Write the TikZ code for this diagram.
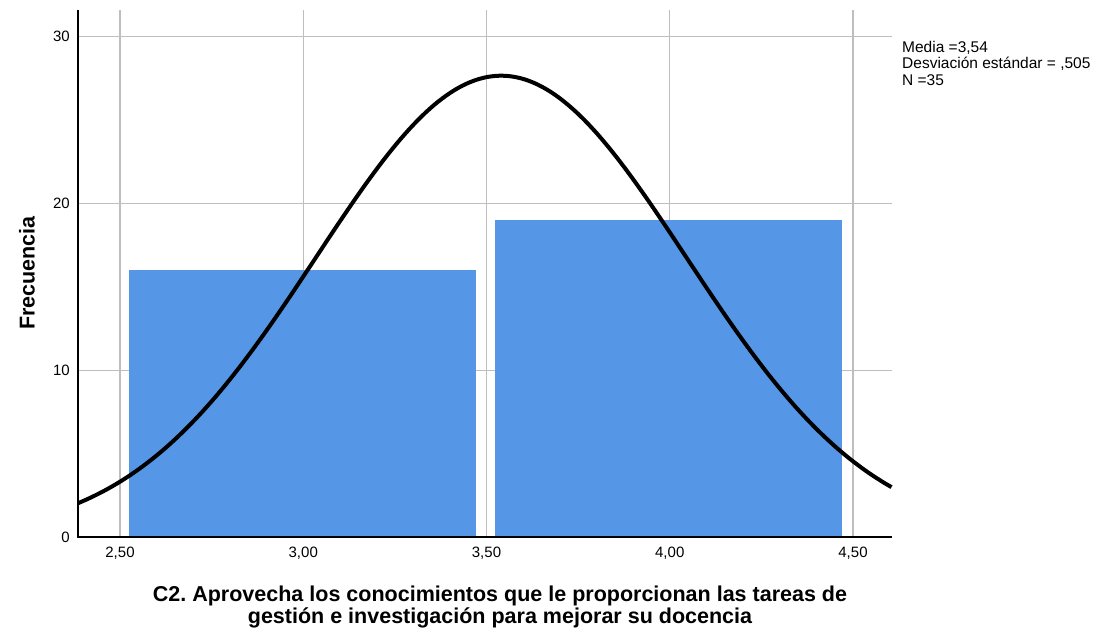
\documentclass[tikz,border=0pt]{standalone}
\usepackage{fontspec}
\setmainfont{Liberation Sans}
\frenchspacing
\definecolor{barblue}{RGB}{85,150,230}
\definecolor{gridgray}{RGB}{190,190,190}
\tikzset{
  gridline/.style={draw=gridgray, line width=1.4pt},
  axisline/.style={draw=black, line width=1.4pt},
  bar/.style={fill=barblue, draw=none},
  ticklbl/.style={font=\fontsize{15}{15}\selectfont, inner sep=0pt},
  legendlbl/.style={font=\fontsize{15.5}{15.5}\selectfont, inner sep=0pt, anchor=base west},
  titlelbl/.style={font=\fontsize{21.5}{20}\selectfont\bfseries, inner sep=0pt},
  curve/.style={draw=black, line width=4pt}
}
\begin{document}
\begin{tikzpicture}[x=1pt,y=-1pt]
\useasboundingbox (0,0) rectangle (1096,634);
% plot coordinates: value v -> x = 120 + (v-2.5)*366.5 ; freq f -> y = 537 - f*16.68
\begin{scope}[shift={(120,537)}]
\begin{scope}[x=366.5pt, y=16.68pt]
  % horizontal grid
  \foreach \f in {10,20,30} {
    \draw[gridline] (-0.1146,\f) -- (2.1064,\f);
  }
  % vertical grid
  \foreach \v in {0,0.5,1,1.5,2} {
    \draw[gridline] (\v,0) -- (\v,31.59);
  }
  % bars
  \path[bar] (0.0246,0) rectangle (0.971,16);
  \path[bar] (1.023,0) rectangle (1.970,19);
  % axes
  \coordinate (o) at (-0.1146,0);
  \coordinate (xe) at (2.1064,0);
  \coordinate (ye) at (-0.1146,31.59);
  \draw[axisline] (ye) -- (o) -- (xe);
  % normal curve
  \draw[curve] plot[domain=-0.1146:2.1064, samples=200, smooth] (\x, {27.65*exp(-((\x-1.04)^2)/(2*0.505*0.505))});
  % x tick labels
  \node[ticklbl] (x250) at (0,-1) {2,50};
  \node[ticklbl] (x300) at (0.5,-1) {3,00};
  \node[ticklbl] (x350) at (1,-1) {3,50};
  \node[ticklbl] (x400) at (1.5,-1) {4,00};
  \node[ticklbl] (x450) at (2,-1) {4,50};
  % y tick labels
  \node[ticklbl, anchor=east] (y0) at (-0.1365,0) {0};
  \node[ticklbl, anchor=east] (y10) at (-0.1365,10) {10};
  \node[ticklbl, anchor=east] (y20) at (-0.1365,20) {20};
  \node[ticklbl, anchor=east] (y30) at (-0.1365,30) {30};
\end{scope}
\end{scope}
% axis titles
\node[titlelbl, rotate=90] (ytitle) at (27,273) {Frecuencia};
\node[titlelbl, align=center] (xtitle) at (500,607)
  {C2. Aprovecha los conocimientos que le proporcionan las tareas de\\gestión e investigación para mejorar su docencia};
% legend
\node[legendlbl] (leg1) at (902,53) {Media =3,54};
\node[legendlbl] (leg2) at (902,69) {Desviación estándar = ,505};
\node[legendlbl] (leg3) at (902,85) {N =35};
\end{tikzpicture}
\end{document}
